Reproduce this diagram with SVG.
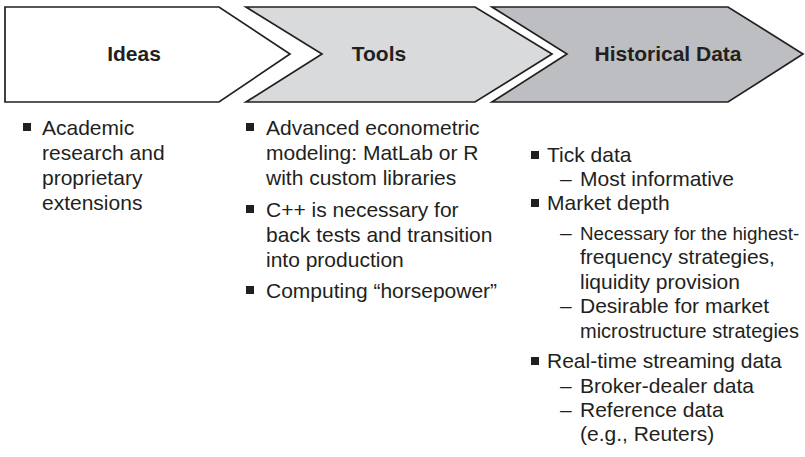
<svg xmlns="http://www.w3.org/2000/svg" width="805" height="457" viewBox="0 0 805 457">
<style>
.shape{stroke:#231f20;stroke-width:1.7;stroke-linejoin:miter}
.title{font-family:"Liberation Sans",Arial,sans-serif;font-weight:bold;font-size:21px;fill:#231f20;text-anchor:middle}
.t{font-family:"Liberation Sans",Arial,sans-serif;font-size:21px;fill:#231f20}
.b{fill:#231f20}
</style>
<rect width="805" height="457" fill="#ffffff"/>
<g id="ideas">
<polygon class="shape" fill="#ffffff" points="5,7 219,7 290,54 219,102 5,102"/>
<text class="title" x="134" y="61">Ideas</text>
<rect class="b" x="23" y="123" width="8" height="8"/>
<text class="t" x="42" y="135">Academic</text>
<text class="t" x="42" y="160">research and</text>
<text class="t" x="42" y="185">proprietary</text>
<text class="t" x="42" y="210">extensions</text>
</g>
<g id="tools">
<polygon class="shape" fill="#d9dadc" points="246,7 475,7 552,54 475,102 246,102 322,54"/>
<text class="title" x="379" y="61">Tools</text>
<rect class="b" x="246" y="123" width="8" height="8"/>
<text class="t" x="266" y="135">Advanced econometric</text>
<text class="t" x="266" y="160">modeling: MatLab or R</text>
<text class="t" x="266" y="185">with custom libraries</text>
<rect class="b" x="246" y="205" width="8" height="8"/>
<text class="t" x="266" y="217">C++ is necessary for</text>
<text class="t" x="266" y="242">back tests and transition</text>
<text class="t" x="266" y="267">into production</text>
<rect class="b" x="246" y="286" width="8" height="8"/>
<text class="t" x="266" y="298">Computing “horsepower”</text>
</g>
<g id="historical-data">
<polygon class="shape" fill="#bdbec1" points="492,7 728,7 803,54 728,102 492,102 567,54"/>
<text class="title" x="668" y="61">Historical Data</text>
<rect class="b" x="531" y="151" width="8" height="8"/>
<text class="t" x="547" y="162">Tick data</text>
<text class="t" x="560" y="186">–</text>
<text class="t" x="580" y="186">Most informative</text>
<rect class="b" x="531" y="199" width="8" height="8"/>
<text class="t" x="547" y="210">Market depth</text>
<text class="t" x="560" y="240">–</text>
<text class="t" x="580" y="240" style="font-size:18.8px">Necessary for the highest-</text>
<text class="t" x="580" y="264">frequency strategies,</text>
<text class="t" x="580" y="289">liquidity provision</text>
<text class="t" x="560" y="313">–</text>
<text class="t" x="580" y="313">Desirable for market</text>
<text class="t" x="580" y="338" style="font-size:20px">microstructure strategies</text>
<rect class="b" x="531" y="357" width="8" height="8"/>
<text class="t" x="547" y="368">Real-time streaming data</text>
<text class="t" x="560" y="393">–</text>
<text class="t" x="580" y="393">Broker-dealer data</text>
<text class="t" x="560" y="417">–</text>
<text class="t" x="580" y="417">Reference data</text>
<text class="t" x="580" y="441">(e.g., Reuters)</text>
</g>
<g id="connectors"></g>
</svg>
